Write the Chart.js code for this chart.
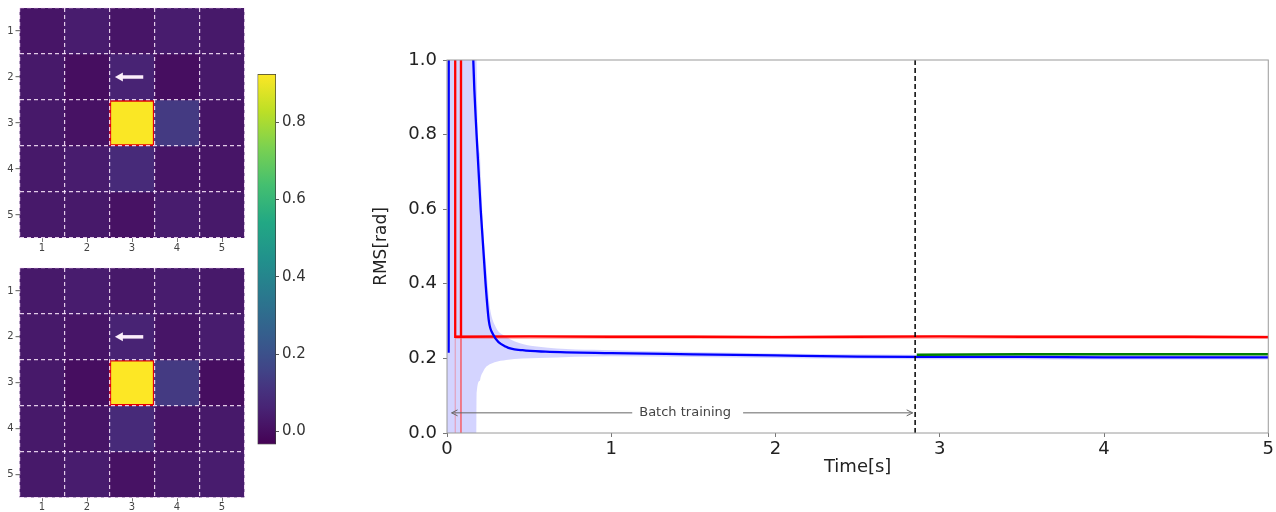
<!DOCTYPE html>
<html>
<head>
<meta charset="utf-8">
<script src="https://cdn.jsdelivr.net/npm/chart.js@4.4.1/dist/chart.umd.min.js"></script>
<style>
  html, body { margin: 0; padding: 0; background: #fff; }
  #wrap { position: relative; width: 1276px; height: 512px; overflow: hidden; }
  canvas { position: absolute; }
</style>
</head>
<body>
<div id="wrap">
  <canvas id="heatTop" width="250" height="260" style="left:0;top:0"></canvas>
  <canvas id="heatBottom" width="250" height="252" style="left:0;top:260px"></canvas>
  <canvas id="cbar" width="80" height="400" style="left:240px;top:60px"></canvas>
  <canvas id="rms" width="916" height="472" style="left:360px;top:40px"></canvas>
</div>
<script>
// ---- 热图数据（5x5，行/列编号 1..5） ----
const gridIdx = [1, 2, 3, 4, 5];
const cellTicks = [0.5, 1, 1.5, 2, 2.5, 3, 3.5, 4, 4.5, 5, 5.5];
const cellEdges = [0.5, 1.5, 2.5, 3.5, 4.5, 5.5];
const heatTop = [
  [0.02, 0.04, 0.02, 0.04, 0.03],
  [0.03, 0.00, 0.06, 0.00, 0.03],
  [0.03, 0.01, 0.92, 0.13, 0.02],
  [0.03, 0.04, 0.08, 0.02, 0.02],
  [0.03, 0.03, 0.01, 0.04, 0.03]
];
const heatBottom = [
  [0.03, 0.04, 0.03, 0.04, 0.03],
  [0.03, 0.02, 0.06, 0.02, 0.04],
  [0.03, 0.00, 0.93, 0.13, 0.00],
  [0.03, 0.02, 0.08, 0.02, 0.03],
  [0.03, 0.04, 0.01, 0.03, 0.04]
];
const hotCell = [3, 3];            // [row, col]
const arrowFrom = [3.25, 2];       // [x, y] in cell units
const arrowTo = [2.62, 2];

// ---- 色条 ----
const cbMin = -0.034, cbMax = 0.925;
const cbTicks = [0, 0.2, 0.4, 0.6, 0.8];

// ---- RMS 曲线 ----
const xTicks = [0, 1, 2, 3, 4, 5];
const yTicks = [0, 0.2, 0.4, 0.6, 0.8, 1.0];
const blueT = [0.01, 0.012, 0.14, 0.16, 0.18, 0.205, 0.235, 0.255, 0.28, 0.36, 0.46, 0.6, 1.0, 1.5, 2.0, 2.5, 2.85, 3.5, 4.0, 4.5, 5.0];
const blueY = [0.215, 3, 1.4, 1.0, 0.8, 0.6, 0.4, 0.3, 0.265, 0.231, 0.222, 0.218, 0.214, 0.211, 0.208, 0.205, 0.204, 0.204, 0.203, 0.203, 0.203];
const bandT = [0, 0.172, 0.18, 0.2, 0.205, 0.22, 0.24, 0.247, 0.26, 0.29, 0.36, 0.56, 1.0, 1.5, 2.0, 2.5, 2.85, 3.5, 4.0, 4.5, 5.0];
const bandHi = [3, 3, 1.0, 0.75, 0.7, 0.55, 0.44, 0.4, 0.34, 0.29, 0.258, 0.231, 0.222, 0.217, 0.213, 0.211, 0.21, 0.209, 0.209, 0.208, 0.208];
const bandLo = [-1, -1, 0.1, 0.14, 0.15, 0.165, 0.178, 0.18, 0.184, 0.19, 0.196, 0.201, 0.206, 0.204, 0.201, 0.199, 0.198, 0.198, 0.197, 0.197, 0.197];
const redT = [0.05, 0.05, 0.085, 0.085, 0.0855, 0.5, 1.0, 1.5, 2.0, 2.5, 3.0, 3.5, 4.0, 4.5, 5.0];
const redY = [3, 0.258, 0.258, 3, 0.258, 0.259, 0.258, 0.258, 0.257, 0.258, 0.259, 0.258, 0.258, 0.258, 0.257];
const redBandT = [0.05, 0.05, 0.085, 0.085, 0.0855, 5.0];
const redBandHi = [0.262, 0.262, 0.262, 0.262, 0.262, 0.262];
const redBandLo = [0, 0.254, 0.254, 0, 0.254, 0.254];
const greenT = [2.86, 3.5, 4.0, 4.5, 5.0];
const greenY = [0.21, 0.211, 0.211, 0.211, 0.211];
const batchEnd = 2.85;
const batchArrowY = 0.054, batchArrowX = [0.028, 2.835], batchLabelX = 1.45;

// viridis 色表
const viridisStops = [
  [0.0, [68, 1, 84]], [0.05, [71, 19, 101]], [0.1, [72, 36, 117]], [0.15, [70, 51, 127]],
  [0.2, [65, 68, 135]], [0.25, [59, 82, 139]], [0.3, [53, 95, 141]], [0.4, [42, 120, 142]],
  [0.5, [33, 145, 140]], [0.6, [34, 168, 132]], [0.7, [68, 191, 112]], [0.8, [122, 209, 81]],
  [0.9, [189, 223, 38]], [1.0, [253, 231, 37]]
];
function viridis(t) {
  t = Math.max(0, Math.min(1, t));
  for (let i = 1; i < viridisStops.length; i++) {
    const [t1, c1] = viridisStops[i], [t0, c0] = viridisStops[i - 1];
    if (t <= t1) {
      const f = (t - t0) / (t1 - t0);
      const c = c0.map((v, k) => Math.round(v + (c1[k] - v) * f));
      return `rgb(${c[0]},${c[1]},${c[2]})`;
    }
  }
  return 'rgb(253,231,37)';
}
const norm = v => (v - cbMin) / (cbMax - cbMin);
const FONT = 'DejaVu Sans, Verdana, sans-serif';
Chart.defaults.font.family = FONT;
Chart.defaults.animation = false;

const DASH_COLOR = 'rgba(255,236,255,0.85)';

const cellArrow = {
  id: 'cellArrow',
  afterDraw(chart) {
    const { x, y } = chart.scales, ctx = chart.ctx;
    const x0 = x.getPixelForValue(arrowFrom[0]), x1 = x.getPixelForValue(arrowTo[0]);
    const yy = y.getPixelForValue(arrowFrom[1]);
    ctx.save();
    ctx.strokeStyle = ctx.fillStyle = '#fbeefb';
    ctx.lineWidth = 3.5;
    ctx.beginPath(); ctx.moveTo(x0, yy); ctx.lineTo(x1 + 6, yy); ctx.stroke();
    ctx.beginPath(); ctx.moveTo(x1, yy); ctx.lineTo(x1 + 8, yy - 4.5); ctx.lineTo(x1 + 8, yy + 4.5); ctx.closePath(); ctx.fill();
    ctx.restore();
  }
};

function makeHeat(id, values, xAxisH) {
  const datasets = values.map((row, ri) => {
    const isHot = ci => gridIdx[ri] === hotCell[0] && gridIdx[ci] === hotCell[1];
    return {
      data: row.map((v, ci) => ({ x: gridIdx[ci], y: [gridIdx[ri] - 0.5, gridIdx[ri] + 0.5] })),
      backgroundColor: row.map(v => viridis(norm(v))),
      borderColor: row.map((v, ci) => isHot(ci) ? '#e0000a' : 'rgba(0,0,0,0)'),
      borderWidth: row.map((v, ci) => isHot(ci) ? 2 : 0),
      borderSkipped: false,
      barPercentage: 1, categoryPercentage: 1, grouped: false
    };
  });
  const half = v => !Number.isInteger(v);
  new Chart(document.getElementById(id), {
    type: 'bar',
    data: { datasets },
    options: {
      responsive: false,
      layout: { padding: { top: 7, right: 5.5, left: 0, bottom: 0 } },
      plugins: { legend: { display: false }, tooltip: { enabled: false } },
      scales: {
        x: {
          type: 'linear', min: 0.5, max: 5.5, offset: false,
          afterBuildTicks: s => { s.ticks = gridIdx.map(v => ({ value: v })); },
          afterFit: s => { s.height = xAxisH; },
          ticks: { font: { size: 10 }, color: '#444', padding: 0, autoSkip: false, maxRotation: 0 },
          grid: { offset: false, drawOnChartArea: false, tickLength: 4, color: '#777' },
          border: { display: false }
        },
        // 仅用于绘制列分隔虚线
        xEdges: {
          type: 'linear', axis: 'x', position: 'bottom', min: 0.5, max: 5.5, offset: false,
          afterBuildTicks: s => { s.ticks = cellEdges.map(v => ({ value: v })); },
          afterFit: s => { s.height = 0; },
          ticks: { display: false },
          grid: { offset: false, drawTicks: false, lineWidth: 1.2, color: DASH_COLOR, z: 1 },
          border: { display: false, dash: [4, 3] }
        },
        y: {
          type: 'linear', min: 0.5, max: 5.5, reverse: true,
          afterBuildTicks: s => { s.ticks = cellTicks.map(v => ({ value: v })); },
          afterFit: s => { s.width = 19.5; },
          ticks: { callback: v => Number.isInteger(v) ? v : '', font: { size: 10 }, color: '#444', padding: 2, autoSkip: false },
          grid: {
            lineWidth: 1.2, tickLength: 4, z: 1,
            color: c => half(c.tick.value) ? DASH_COLOR : 'rgba(0,0,0,0)',
            tickColor: c => half(c.tick.value) ? 'rgba(0,0,0,0)' : '#777'
          },
          border: { display: false, dash: [4, 3] }
        }
      }
    },
    plugins: [cellArrow]
  });
}
makeHeat('heatTop', heatTop, 22);
makeHeat('heatBottom', heatBottom, 14.5);

// 色条
new Chart(document.getElementById('cbar'), {
  type: 'bar',
  data: {
    labels: ['cb'],
    datasets: [{
      data: [[cbMin, cbMax]],
      backgroundColor: c => {
        const ch = c.chart, ys = ch.scales.y;
        if (!ch.chartArea || !ys) return viridis(0.5);
        const g = ch.ctx.createLinearGradient(0, ys.getPixelForValue(cbMin), 0, ys.getPixelForValue(cbMax));
        viridisStops.forEach(([t]) => g.addColorStop(t, viridis(t)));
        return g;
      },
      borderColor: '#3a3a3a', borderWidth: 1, borderSkipped: false,
      barPercentage: 1, categoryPercentage: 1
    }]
  },
  options: {
    responsive: false,
    layout: { padding: { left: 17.5, top: 14, bottom: 15.5, right: 0 } },
    plugins: { legend: { display: false }, tooltip: { enabled: false } },
    scales: {
      x: { display: false },
      y: {
        position: 'right', min: cbMin, max: cbMax,
        afterBuildTicks: s => { s.ticks = cbTicks.map(v => ({ value: v })); },
        afterFit: s => { s.width = 44; },
        ticks: { callback: v => v.toFixed(1), font: { size: 15 }, color: '#333', padding: 3 },
        grid: { drawOnChartArea: false, tickLength: 3, color: '#555' },
        border: { display: false }
      }
    }
  }
});

// RMS 曲线图
const pts = (xs, ys) => xs.map((x, i) => ({ x, y: ys[i] }));
const batchNote = {
  id: 'batchNote',
  afterDatasetsDraw(chart) {
    const { x, y } = chart.scales, ctx = chart.ctx, ca = chart.chartArea;
    ctx.save();
    // 外框
    ctx.strokeStyle = '#9a9a9a'; ctx.lineWidth = 1;
    ctx.strokeRect(ca.left, ca.top, ca.right - ca.left, ca.bottom - ca.top);
    // 双向箭头 + 文字
    const yy = y.getPixelForValue(batchArrowY);
    const xa = x.getPixelForValue(batchArrowX[0]), xb = x.getPixelForValue(batchArrowX[1]);
    const xc = x.getPixelForValue(batchLabelX);
    ctx.font = '13px ' + FONT;
    const label = 'Batch training';
    const w = ctx.measureText(label).width;
    ctx.strokeStyle = '#666'; ctx.lineWidth = 1;
    ctx.beginPath();
    ctx.moveTo(xa, yy); ctx.lineTo(xc - w / 2 - 7, yy);
    ctx.moveTo(xc + w / 2 + 12, yy); ctx.lineTo(xb, yy);
    ctx.moveTo(xa + 6, yy - 3); ctx.lineTo(xa, yy); ctx.lineTo(xa + 6, yy + 3);
    ctx.moveTo(xb - 6, yy - 3); ctx.lineTo(xb, yy); ctx.lineTo(xb - 6, yy + 3);
    ctx.stroke();
    ctx.fillStyle = '#444'; ctx.textAlign = 'center'; ctx.textBaseline = 'middle';
    ctx.fillText(label, xc, yy);
    ctx.restore();
  }
};

new Chart(document.getElementById('rms'), {
  type: 'line',
  data: {
    datasets: [
      { data: pts(batchArrowX.map(() => batchEnd), [0, 1]), borderColor: '#000', borderWidth: 1.5, borderDash: [5, 3], order: 0 },
      { data: pts(greenT, greenY), borderColor: '#008000', borderWidth: 2.5, order: 1 },
      { data: pts(blueT, blueY), borderColor: '#0000ff', borderWidth: 2.3, cubicInterpolationMode: 'monotone', order: 2 },
      { data: pts(redT, redY), borderColor: '#ff0000', borderWidth: 2.3, order: 3 },
      { data: pts(redBandT, redBandHi), borderColor: 'rgba(255,0,0,0)', borderWidth: 1, fill: false, order: 8 },
      { data: pts(redBandT, redBandLo), borderColor: 'rgba(255,60,60,0.4)', borderWidth: 1, fill: '-1', backgroundColor: 'rgba(255,0,0,0.22)', order: 8 },
      { data: pts(bandT, bandHi), borderColor: 'rgba(0,0,255,0)', borderWidth: 1, fill: false, cubicInterpolationMode: 'monotone', order: 9 },
      { data: pts(bandT, bandLo), borderColor: 'rgba(0,0,255,0)', borderWidth: 1, fill: '-1', backgroundColor: 'rgba(60,60,255,0.22)', cubicInterpolationMode: 'monotone', order: 9 }
    ]
  },
  options: {
    responsive: false,
    layout: { padding: { top: 20, right: 6.5, left: 0, bottom: 0 } },
    elements: { point: { radius: 0 } },
    plugins: { legend: { display: false }, tooltip: { enabled: false } },
    scales: {
      x: {
        type: 'linear', min: 0, max: 5,
        afterBuildTicks: s => { s.ticks = xTicks.map(v => ({ value: v })); },
        afterFit: s => { s.height = 79; },
        ticks: { font: { size: 18 }, color: '#222', padding: 2, maxRotation: 0 },
        grid: { drawOnChartArea: false, tickLength: 4, color: '#777' },
        border: { display: false },
        title: { display: true, text: 'Time[s]', font: { size: 18 }, color: '#222', padding: { top: 0, bottom: 34 } }
      },
      y: {
        min: 0, max: 1,
        afterBuildTicks: s => { s.ticks = yTicks.map(v => ({ value: v })); },
        afterFit: s => { s.width = 87; },
        ticks: { callback: v => v.toFixed(1), font: { size: 18 }, color: '#222', padding: 6 },
        grid: { drawOnChartArea: false, tickLength: 4, color: '#777' },
        border: { display: false },
        title: { display: true, text: 'RMS[rad]', font: { size: 17 }, color: '#222', padding: { top: 11 } }
      }
    }
  },
  plugins: [batchNote]
});
</script>
</body>
</html>
